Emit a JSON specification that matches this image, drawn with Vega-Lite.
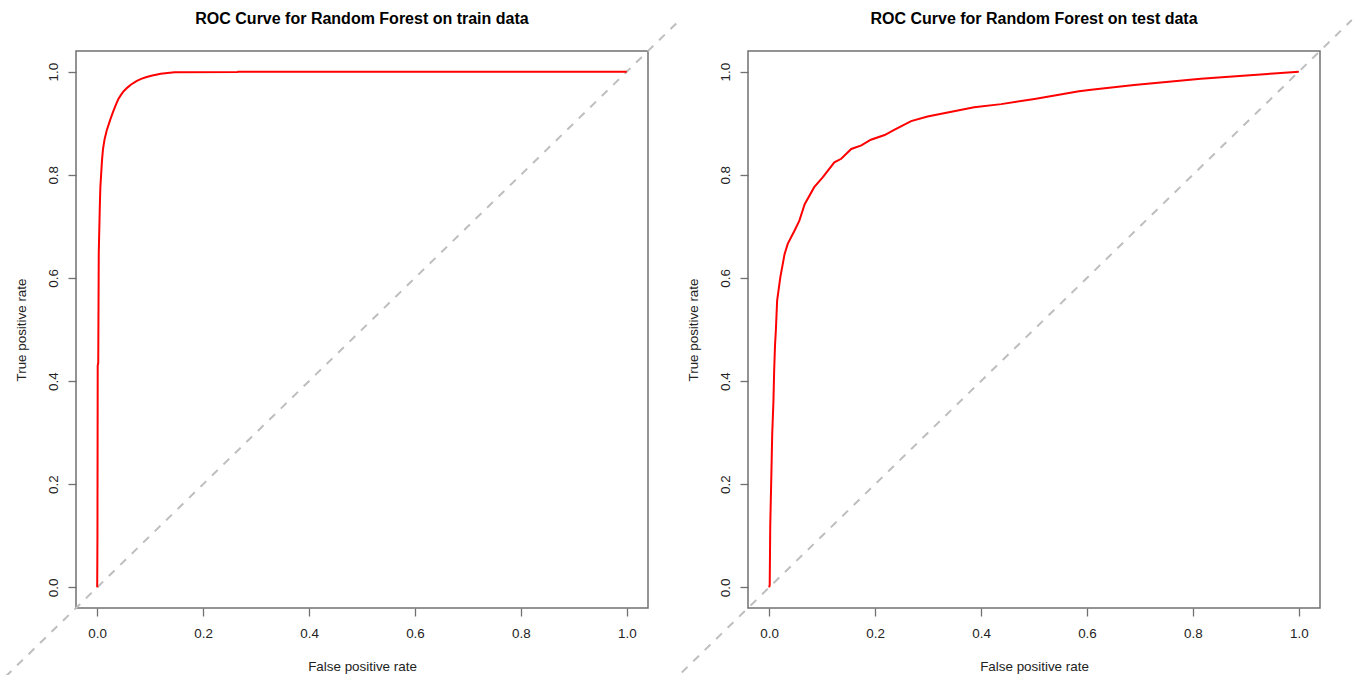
{
  "$schema": "https://vega.github.io/schema/vega-lite/v6.json",
  "background": "white",
  "padding": {"left": 0, "top": 10, "right": 0, "bottom": 0},
  "bounds": "flush",
  "spacing": 100,
  "datasets": {
    "train": [
      {"fpr": 0, "tpr": 0}, {"fpr": 0.0005, "tpr": 0.1}, {"fpr": 0.001, "tpr": 0.43}, {"fpr": 0.002, "tpr": 0.435},
      {"fpr": 0.003, "tpr": 0.65}, {"fpr": 0.005, "tpr": 0.74}, {"fpr": 0.006, "tpr": 0.776}, {"fpr": 0.008, "tpr": 0.81},
      {"fpr": 0.009, "tpr": 0.827}, {"fpr": 0.011, "tpr": 0.85}, {"fpr": 0.014, "tpr": 0.869}, {"fpr": 0.018, "tpr": 0.886},
      {"fpr": 0.025, "tpr": 0.908}, {"fpr": 0.03, "tpr": 0.922}, {"fpr": 0.035, "tpr": 0.935}, {"fpr": 0.04, "tpr": 0.947},
      {"fpr": 0.045, "tpr": 0.955}, {"fpr": 0.05, "tpr": 0.962},
      {"fpr": 0.057, "tpr": 0.969}, {"fpr": 0.064, "tpr": 0.975}, {"fpr": 0.075, "tpr": 0.982}, {"fpr": 0.083, "tpr": 0.986},
      {"fpr": 0.092, "tpr": 0.989}, {"fpr": 0.102, "tpr": 0.992}, {"fpr": 0.12, "tpr": 0.996}, {"fpr": 0.146, "tpr": 0.9987},
      {"fpr": 0.265, "tpr": 0.9993}, {"fpr": 0.266, "tpr": 1.0}, {"fpr": 1.0, "tpr": 1.0}
    ],
    "test": [
      {"fpr": 0, "tpr": 0}, {"fpr": 0.001, "tpr": 0.005}, {"fpr": 0.002, "tpr": 0.12}, {"fpr": 0.004, "tpr": 0.213},
      {"fpr": 0.0057, "tpr": 0.297}, {"fpr": 0.008, "tpr": 0.36}, {"fpr": 0.0094, "tpr": 0.42}, {"fpr": 0.011, "tpr": 0.469},
      {"fpr": 0.0126, "tpr": 0.498}, {"fpr": 0.015, "tpr": 0.556}, {"fpr": 0.021, "tpr": 0.601}, {"fpr": 0.029, "tpr": 0.646},
      {"fpr": 0.035, "tpr": 0.666}, {"fpr": 0.048, "tpr": 0.692}, {"fpr": 0.057, "tpr": 0.711}, {"fpr": 0.067, "tpr": 0.743},
      {"fpr": 0.085, "tpr": 0.776}, {"fpr": 0.101, "tpr": 0.795}, {"fpr": 0.123, "tpr": 0.824}, {"fpr": 0.136, "tpr": 0.831},
      {"fpr": 0.155, "tpr": 0.85}, {"fpr": 0.174, "tpr": 0.857}, {"fpr": 0.192, "tpr": 0.868}, {"fpr": 0.218, "tpr": 0.877},
      {"fpr": 0.236, "tpr": 0.887}, {"fpr": 0.268, "tpr": 0.904}, {"fpr": 0.299, "tpr": 0.913}, {"fpr": 0.387, "tpr": 0.931},
      {"fpr": 0.438, "tpr": 0.937}, {"fpr": 0.501, "tpr": 0.947}, {"fpr": 0.585, "tpr": 0.962}, {"fpr": 0.608, "tpr": 0.965},
      {"fpr": 0.689, "tpr": 0.974}, {"fpr": 0.815, "tpr": 0.986}, {"fpr": 0.941, "tpr": 0.9955}, {"fpr": 1.0, "tpr": 1.0}
    ],
    "diagLeft": [{"fpr": -0.1728, "tpr": -0.1728}, {"fpr": 1.1, "tpr": 1.1}],
    "diagRight": [{"fpr": -0.165, "tpr": -0.165}, {"fpr": 1.1, "tpr": 1.1}]
  },
  "config": {
    "view": {"stroke": "#707070", "strokeWidth": 1.5},
    "font": "Liberation Sans",
    "axis": {
      "grid": false,
      "domain": false,
      "ticks": true,
      "tickSize": 8,
      "tickColor": "#707070",
      "tickWidth": 1.3,
      "labelFont": "Liberation Sans",
      "labelFontSize": 13.4,
      "labelColor": "#222222",
      "labelFlush": false,
      "labelOverlap": false,
      "titleFont": "Liberation Sans",
      "titleFontSize": 13.4,
      "titleFontWeight": "normal",
      "titleColor": "#222222"
    },
    "axisX": {
      "labelBaseline": "alphabetic",
      "labelAlign": "center",
      "labelPadding": 21.5,
      "titleBaseline": "alphabetic",
      "titleAlign": "center",
      "titleX": 286,
      "titleY": 62.5
    },
    "axisY": {
      "labelAngle": 270,
      "labelAlign": "center",
      "labelBaseline": "alphabetic",
      "labelPadding": 10.4,
      "titleAngle": 270,
      "titleBaseline": "alphabetic",
      "titleAlign": "center",
      "titleX": -50.7,
      "titleY": 278.5
    },
    "title": {
      "font": "Liberation Sans",
      "fontSize": 16,
      "fontWeight": "bold",
      "color": "#000000",
      "frame": "group",
      "anchor": "middle",
      "baseline": "alphabetic"
    }
  },
  "hconcat": [
    {
      "width": 572,
      "height": 557,
      "title": {"text": "ROC Curve for Random Forest on train data", "offset": -10.9},
      "layer": [
        {
          "data": {"name": "diagLeft"},
          "mark": {"type": "line", "color": "#BEBEBE", "strokeWidth": 2, "strokeDash": [8, 8]},
          "encoding": {
            "x": {"field": "fpr", "type": "quantitative"},
            "y": {"field": "tpr", "type": "quantitative"}
          }
        },
        {
          "data": {"name": "train"},
          "mark": {"type": "line", "color": "#FF0000", "strokeWidth": 2},
          "encoding": {
            "x": {"field": "fpr", "type": "quantitative", "scale": {"domain": [-0.04, 1.04], "nice": false, "zero": false},
                  "axis": {"values": [0, 0.2, 0.4, 0.6, 0.8, 1.0], "format": ".1f", "title": "False positive rate"}},
            "y": {"field": "tpr", "type": "quantitative", "scale": {"domain": [-0.04, 1.04], "nice": false, "zero": false},
                  "axis": {"values": [0, 0.2, 0.4, 0.6, 0.8, 1.0], "format": ".1f", "title": "True positive rate"}}
          }
        }
      ]
    },
    {
      "width": 572,
      "height": 557,
      "title": {"text": "ROC Curve for Random Forest on test data", "offset": -10.9},
      "layer": [
        {
          "data": {"name": "diagRight"},
          "mark": {"type": "line", "color": "#BEBEBE", "strokeWidth": 2, "strokeDash": [8, 8]},
          "encoding": {
            "x": {"field": "fpr", "type": "quantitative"},
            "y": {"field": "tpr", "type": "quantitative"}
          }
        },
        {
          "data": {"name": "test"},
          "mark": {"type": "line", "color": "#FF0000", "strokeWidth": 2},
          "encoding": {
            "x": {"field": "fpr", "type": "quantitative", "scale": {"domain": [-0.04, 1.04], "nice": false, "zero": false},
                  "axis": {"values": [0, 0.2, 0.4, 0.6, 0.8, 1.0], "format": ".1f", "title": "False positive rate"}},
            "y": {"field": "tpr", "type": "quantitative", "scale": {"domain": [-0.04, 1.04], "nice": false, "zero": false},
                  "axis": {"values": [0, 0.2, 0.4, 0.6, 0.8, 1.0], "format": ".1f", "title": "True positive rate"}}
          }
        }
      ]
    }
  ]
}
